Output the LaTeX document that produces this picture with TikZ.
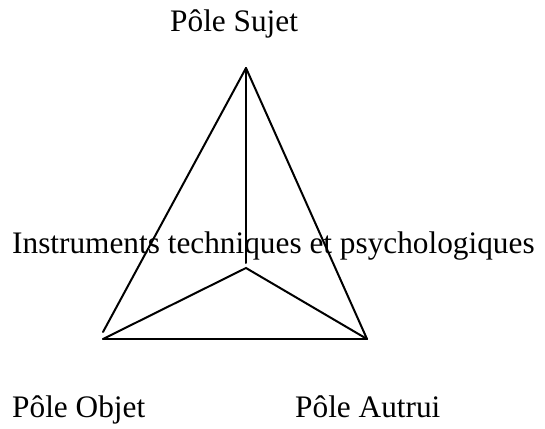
\documentclass[tikz,border=0pt]{standalone}
\usepackage{fontspec}
\setmainfont{Liberation Serif}
\usepackage{tikz}

\begin{document}
\begin{tikzpicture}[x=1pt, y=-1pt, every node/.style={font=\fontsize{31.3}{37}\selectfont, inner sep=0pt, anchor=base west}, edge/.style={line width=2pt, line cap=round}]
            \useasboundingbox (0,0) rectangle (545,428);
            \coordinate (sujetpt) at (246,68);
            \coordinate (objetpt) at (103,339);
            \coordinate (autruipt) at (367,339);
            \coordinate (instrpt) at (246,268);
            \coordinate (leftend) at (103,332);
            \coordinate (midend) at (246,263);
            \node (sujet) at (170,32) {Pôle Sujet};
            \node (instr) at (12,253) {Instruments techniques et psychologiques};
            \node (objet) at (12,417) {Pôle Objet};
            \node (autrui) at (295,417) {Pôle Autrui};
            \draw[edge] (sujetpt) -- (leftend);
            \draw[edge] (sujetpt) -- (autruipt);
            \draw[edge] (sujetpt) -- (midend);
            \draw[edge] (objetpt) -- (instrpt) -- (autruipt);
            \draw[edge] (objetpt) -- (autruipt);
        \end{tikzpicture}
\end{document}
